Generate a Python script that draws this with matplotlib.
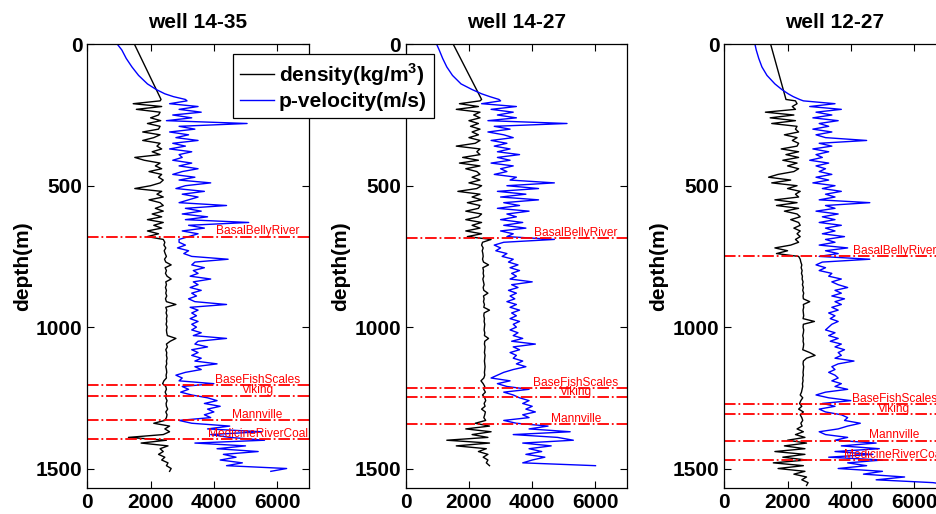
import numpy as np
import matplotlib
matplotlib.use('Agg')
import matplotlib.pyplot as plt

plt.rcParams['font.family'] = ['Liberation Sans', 'DejaVu Sans']
plt.rcParams['font.weight'] = 'bold'
plt.rcParams['mathtext.fontset'] = 'custom'
plt.rcParams['mathtext.bf'] = 'Liberation Sans:bold'

titles = ['well 14-35', 'well 14-27', 'well 12-27']

# shallow part of each log (extrapolated trend above the logged interval)
shallow_depth = [0, 20, 50, 80, 110, 140, 160, 175, 185, 195]
shallow_rho_1 = [1490, 1576, 1705, 1835, 1964, 2093, 2180, 2244, 2287, 2330]
shallow_vp_1 = [950, 1090, 1230, 1410, 1620, 1900, 2180, 2450, 2720, 3100]
shallow_rho_2 = [1505, 1597, 1735, 1872, 2010, 2147, 2239, 2308, 2354, 2400]
shallow_vp_2 = [980, 1060, 1170, 1300, 1480, 1750, 2100, 2400, 2660, 2950]
shallow_rho_3 = [1466, 1516, 1590, 1665, 1739, 1814, 1863, 1900, 1925, 1950]
shallow_vp_3 = [970, 1010, 1090, 1190, 1350, 1600, 1820, 2020, 2180, 2380]

# logged interval, one sample every 10 m starting at 200 m
log_top = 200
log_step = 10

rho_1 = [2300, 1450, 2350, 1550, 2300, 2250, 2000, 2320, 1900, 2300,
         2250, 1750, 2300, 2100, 1750, 2300, 2200, 2350, 2050, 2300,
         1500, 1800, 2300, 2150, 2350, 1950, 2350, 2250, 2400, 2300,
         2000, 1500, 2350, 2200, 2400, 1950, 2300, 2400, 2150, 2400,
         2050, 2350, 1900, 2400, 2100, 2350, 1900, 2250, 1900, 2400,
         2450, 2420, 2480, 2430, 2460, 2500, 2440, 2480, 2650, 2460,
         2500, 2470, 2520, 2650, 2480, 2500, 2470, 2500, 2480, 2510,
         2470, 2500, 2800, 2480, 2510, 2490, 2520, 2500, 2510, 2490,
         2520, 2500, 2510, 2530, 2800, 2620, 2500, 2530, 2480, 2510,
         2500, 2520, 2500, 2510, 2480, 2500, 2510, 2490, 2500, 2420,
         2380, 2480, 2500, 2460, 2500, 2480, 2520, 2490, 2500, 2540,
         2480, 2520, 2500, 2450, 2100, 2600, 2450, 2600, 2400, 1300,
         2500, 1700, 2550, 2300, 2400, 2250, 2450, 2350, 2550, 2500,
         2650, 2600]
vp_1 = [3150, 2600, 3500, 2900, 3600, 2700, 3300, 2500, 5050, 2900,
        3400, 2600, 3200, 2800, 3500, 2700, 3100, 2600, 3300, 2900,
        3000, 2700, 3300, 2900, 3500, 3000, 2700, 3400, 2900, 3900,
        3100, 2800, 3700, 3000, 3500, 3200, 2900, 4400, 3100, 3600,
        3000, 3800, 3100, 5100, 3200, 3700, 3000, 3500, 3200, 2900,
        2900, 3100, 2850, 3200, 3050, 3300, 4450, 3400, 3300, 3700,
        3350, 3500, 3250, 3900, 3350, 3500, 3250, 3600, 3300, 3450,
        3200, 3400, 4400, 3250, 3500, 3300, 3450, 3250, 3500, 3300,
        3450, 3300, 3600, 3350, 4400, 3500, 3400, 3800, 3300, 3500,
        3300, 3600, 3400, 4100, 3400, 3600, 3100, 2800, 3000, 2900,
        4000, 3000, 3200, 2950, 3300, 3800, 4100, 3700, 4200, 3800,
        4000, 3700, 3900, 2900, 3300, 4500, 3800, 5500, 3900, 4500,
        5600, 3400, 5000, 4100, 5400, 4300, 4700, 4200, 4900, 4400,
        6300, 5800]

rho_2 = [2350, 1700, 2300, 1600, 2350, 2150, 2350, 2000, 2300, 2050,
         2350, 2100, 2300, 2000, 2350, 2200, 1600, 2350, 2250, 2350,
         1800, 2300, 1700, 2350, 1900, 2250, 2350, 2100, 2350, 2000,
         2400, 2250, 1650, 2350, 2100, 2400, 1950, 2350, 2300, 1900,
         2400, 2300, 1900, 2400, 2100, 2350, 1900, 2400, 1950, 2700,
         2430, 2400, 2450, 2420, 2440, 2450, 2430, 2460, 2620, 2440,
         2460, 2450, 2470, 2440, 2460, 2480, 2450, 2470, 2600, 2460,
         2480, 2460, 2490, 2470, 2650, 2480, 2470, 2490, 2480, 2500,
         2490, 2480, 2500, 2490, 2620, 2500, 2490, 2510, 2500, 2490,
         2510, 2500, 2490, 2500, 2510, 2500, 2490, 2500, 2470, 2380,
         2450, 2500, 2470, 2520, 2430, 2500, 2530, 2480, 2510, 2400,
         2520, 2500, 2470, 2530, 2200, 2650, 1900, 2700, 2100, 2600,
         1300, 2650, 1600, 2550, 2300, 2600, 2450, 2600, 2550, 2650]
vp_2 = [3000, 2400, 3500, 2700, 3400, 2900, 3500, 2600, 5100, 2800,
        3300, 2600, 3100, 3400, 2700, 3200, 2800, 3300, 2900, 3600,
        2900, 3300, 2700, 3400, 3000, 3200, 2800, 3500, 3300, 4700,
        3200, 4200, 2900, 3800, 3000, 4200, 3100, 3600, 2900, 3900,
        3200, 3500, 3000, 3700, 3100, 3800, 3000, 3400, 3200, 4700,
        3100, 2800, 3000, 2850, 3200, 3050, 3400, 3250, 3550, 3300,
        3600, 3350, 3500, 3300, 4000, 3350, 3550, 3250, 3500, 3300,
        3450, 3200, 3500, 3300, 3600, 3350, 3500, 3300, 3600, 3400,
        3500, 3300, 3550, 3400, 3700, 3350, 4100, 3400, 3600, 3300,
        3500, 3400, 3700, 3500, 3800, 3400, 3100, 2900, 2700, 3300,
        2900, 3200, 3900, 3100, 3400, 3600, 3900, 3700, 4000, 3800,
        4100, 3700, 3900, 3100, 3500, 4500, 3900, 5200, 3400, 4800,
        5300, 3700, 4600, 3900, 4300, 3800, 4400, 4000, 3700, 6000]

rho_3 = [2250, 2300, 2150, 2250, 1300, 2200, 1450, 2250, 1500, 2300,
         2250, 2350, 1900, 2300, 2150, 2350, 2300, 1800, 2350, 1950,
         2350, 1850, 2300, 2000, 2350, 2200, 1700, 1400, 2100, 1500,
         2300, 2000, 2400, 2250, 2350, 1600, 2300, 1650, 2350, 1900,
         2300, 2400, 2100, 2350, 2400, 2200, 2400, 2300, 2400, 2250,
         2350, 2100, 1600, 2000, 1650, 2350, 2400, 2420, 2450, 2430,
         2460, 2440, 2470, 2460, 2490, 2470, 2500, 2480, 2510, 2490,
         2500, 2700, 2500, 2510, 2490, 2500, 2510, 2490, 2850, 2500,
         2490, 2510, 2500, 2480, 2500, 2490, 2510, 2500, 2480, 2700,
         2870, 2600, 2500, 2490, 2510, 2500, 2490, 2500, 2480, 2490,
         2470, 2480, 2460, 2440, 2400, 2480, 2420, 2380, 2450, 2350,
         2500, 2400, 2450, 2480, 2420, 2460, 2300, 2500, 2250, 2550,
         2000, 2600, 1900, 2550, 1600, 2550, 1850, 2600, 1550, 2500,
         1700, 2550, 2200, 2600, 2450, 2650, 2600]
vp_3 = [2500, 3500, 2700, 3700, 2900, 3400, 2800, 3600, 3000, 3300,
        2800, 3400, 2900, 3200, 4500, 3000, 3400, 2800, 3300, 2900,
        3100, 2700, 3300, 2900, 3200, 3000, 3400, 2900, 3300, 2800,
        3500, 3100, 3700, 3200, 3500, 3000, 4600, 3200, 3500, 2900,
        3600, 3100, 3500, 3000, 3700, 3200, 3500, 3100, 3800, 3200,
        3500, 3000, 3900, 3200, 3600, 3000, 4600, 3100, 2900, 3200,
        3000, 3400, 3300, 3700, 3400, 3600, 3900, 3500, 3700, 3400,
        3800, 3500, 3700, 3400, 3600, 3300, 3500, 3350, 3600, 3400,
        3300, 3200, 3500, 3300, 3600, 3350, 3700, 3500, 3800, 3600,
        3700, 3500, 4100, 3600, 3400, 3500, 3300, 3500, 3600, 3400,
        3700, 3500, 3900, 3200, 2900, 3300, 4000, 3100, 3500, 3000,
        3200, 3700, 3900, 3800, 4300, 3900, 3600, 3000, 3200, 3900,
        3500, 4800, 3700, 4900, 3500, 4700, 3300, 5000, 3900, 4500,
        3600, 5000, 4400, 5700, 4800, 6600, 7200]

# formation tops (m)
tops_1 = {'BasalBellyRiver': 680, 'BaseFishScales': 1206, 'Viking': 1242,
          'Mannville': 1330, 'MedicineRiverCoal': 1396}
tops_2 = {'BasalBellyRiver': 685, 'BaseFishScales': 1217, 'Viking': 1248,
          'Mannville': 1343}
tops_3 = {'BasalBellyRiver': 748, 'BaseFishScales': 1271, 'Viking': 1307,
          'Mannville': 1401, 'MedicineRiverCoal': 1469}

wells = [(shallow_rho_1, shallow_vp_1, rho_1, vp_1, tops_1),
         (shallow_rho_2, shallow_vp_2, rho_2, vp_2, tops_2),
         (shallow_rho_3, shallow_vp_3, rho_3, vp_3, tops_3)]

fig = plt.figure(figsize=(9.36, 5.14), dpi=100)

lefts = [0.0933, 0.4334, 0.7738]
lines = []
for i, (s_rho, s_vp, rho, vp, tops) in enumerate(wells):
    ax = fig.add_axes([lefts[i], 0.05, 0.2366, 0.8638])

    depth_rho = list(shallow_depth) + list(log_top + log_step * np.arange(len(rho)))
    depth_vp = list(shallow_depth) + list(log_top + log_step * np.arange(len(vp)))

    l1, = ax.plot(list(s_rho) + rho, depth_rho, color='k', lw=1.0,
                  label=r'density(kg/m$^{\mathbf{3}}$)')
    l2, = ax.plot(list(s_vp) + vp, depth_vp, color='b', lw=1.0,
                  label='p-velocity(m/s)')
    if i == 0:
        lines = [l1, l2]

    for name, d in tops.items():
        ax.axhline(d, color='r', ls='-.', lw=1.3)
        ax.text(5380, d + 3, name, color='r', ha='center', va='bottom',
                fontsize=8.6, fontweight='normal')

    ax.set_xlim(0, 7000)
    ax.set_ylim(1570, 0)
    ax.set_xticks([0, 2000, 4000, 6000])
    ax.set_yticks([0, 500, 1000, 1500])
    ax.tick_params(direction='in', top=True, right=True, labelsize=15, length=5, width=0.8)
    ax.set_title(titles[i], fontsize=15, fontweight='bold', pad=12)
    ax.set_ylabel('depth(m)', fontsize=15, fontweight='bold', labelpad=3)
    for sp in ax.spines.values():
        sp.set_linewidth(0.9)

leg = fig.legend(lines, [l.get_label() for l in lines], loc='upper left',
                 bbox_to_anchor=(233 / 936, 1 - 54 / 514), borderaxespad=0,
                 fontsize=15, fancybox=False, framealpha=1, edgecolor='k',
                 handlelength=1.6, handletextpad=0.25, borderpad=0.35, labelspacing=0.2)
leg.get_frame().set_linewidth(0.9)

fig.savefig('out.png', dpi=100)
